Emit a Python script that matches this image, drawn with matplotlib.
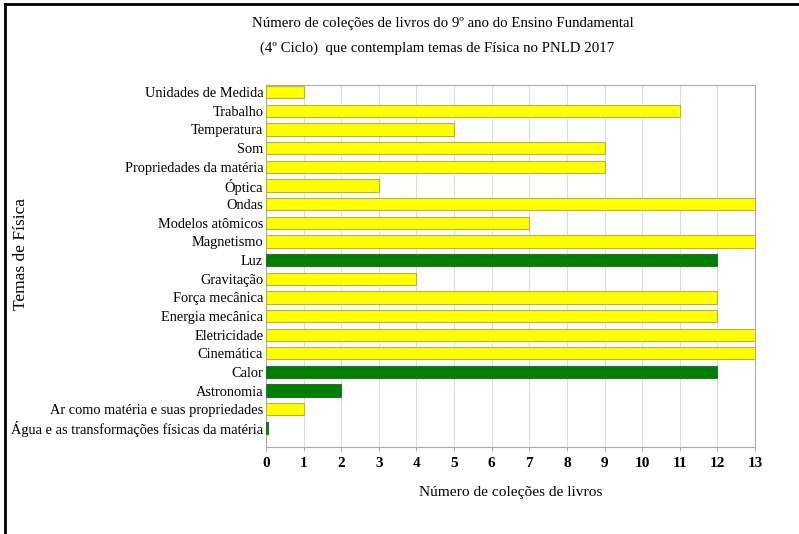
import numpy as np
import matplotlib.pyplot as plt
from matplotlib.lines import Line2D

# data, top to bottom as in the chart
temas = ["Unidades de Medida", "Trabalho", "Temperatura", "Som",
         "Propriedades da matéria", "Óptica", "Ondas", "Modelos atômicos",
         "Magnetismo", "Luz", "Gravitação", "Força mecânica",
         "Energia mecânica", "Eletricidade", "Cinemática", "Calor",
         "Astronomia", "Ar como matéria e suas propriedades",
         "Água e as transformações físicas da matéria"]
colecoes = [1, 11, 5, 9, 9, 3, 13, 7, 13, 12, 4, 12, 12, 13, 13, 12, 2, 1, 0.05]
destaque = ["Luz", "Calor", "Astronomia", "Água e as transformações físicas da matéria"]
xticks = list(range(0, 14))

plt.rcParams['font.family'] = ['Liberation Serif', 'DejaVu Serif']

fig = plt.figure(figsize=(7.99, 5.34), dpi=100)
ax = fig.add_axes([266/799, 1 - 447/534, (755-266)/799, (447-85)/534])

y = np.arange(len(temas))[::-1]
cores = ['#008000' if t in destaque else '#ffff00' for t in temas]
bordas = ['#2f6f2f' if t in destaque else '#b5b53a' for t in temas]
ax.barh(y, colecoes, height=0.66, color=cores, edgecolor=bordas, linewidth=0.8, zorder=3)

ax.set_xlim(0, 13)
ax.set_ylim(-1.02, len(temas) - 1 + 0.38)
ax.set_xticks(xticks)
ax.set_xticklabels([str(v) for v in xticks], fontweight='bold', fontsize=11)
ax.set_yticks(y)
ax.set_yticklabels(temas, fontsize=10.4)
ax.tick_params(axis='y', length=0, pad=2)
ax.tick_params(axis='x', length=3, color='#aaaaaa', pad=4)
ax.grid(axis='x', color='#dddddd', linewidth=0.8, zorder=0)
for s in ax.spines.values():
    s.set_color('#aaaaaa')

ax.set_xlabel("Número de coleções de livros", fontsize=11.1, labelpad=12)
fig.text(21/799, 1 - 254/534, "Temas de Física", rotation=90, fontsize=12.5,
         ha='center', va='center')

fig.text(443/799, 1 - 24/534,
         "Número de coleções de livros do 9º ano do Ensino Fundamental",
         ha='center', va='center', fontsize=10.7)
fig.text(437/799, 1 - 48/534,
         "(4º Ciclo)  que contemplam temas de Física no PNLD 2017",
         ha='center', va='center', fontsize=10.7)

# outer frame (top and left only visible)
fig.add_artist(Line2D([5/799, 1], [1 - 4/534, 1 - 4/534], color='black', linewidth=2))
fig.add_artist(Line2D([5/799, 5/799], [0, 1 - 4/534], color='black', linewidth=2))

fig.savefig("out.png", dpi=100)
